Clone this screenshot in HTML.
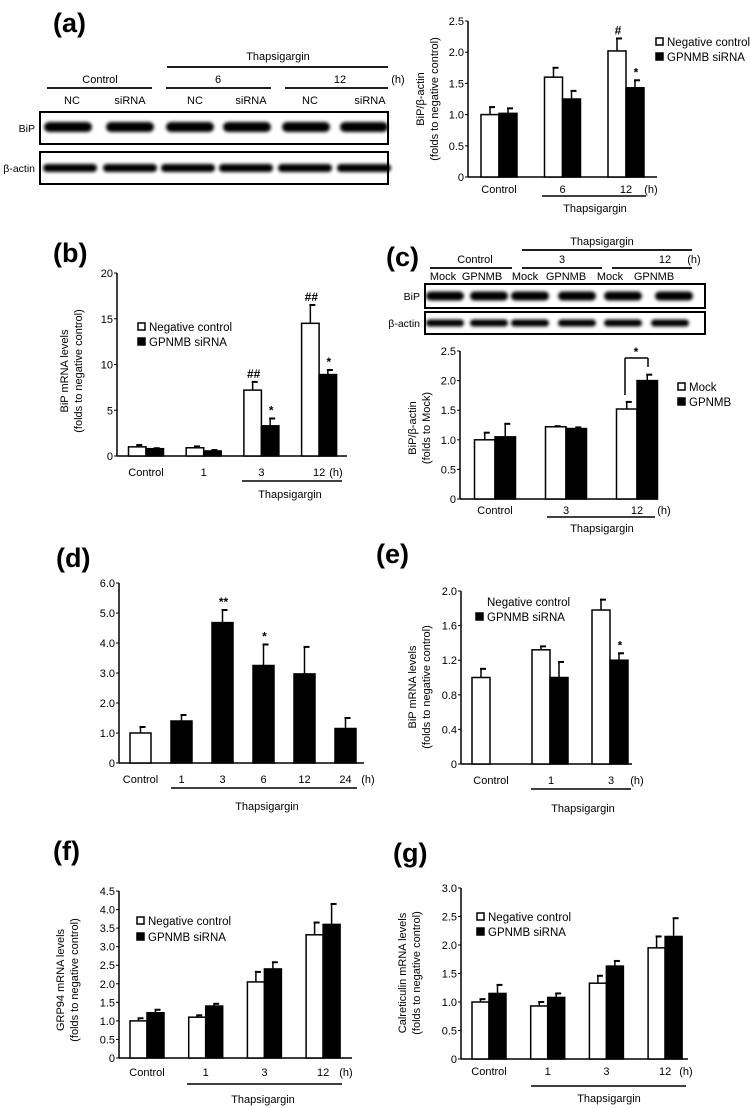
<!DOCTYPE html>
<html><head><meta charset="utf-8">
<style>
html,body{margin:0;padding:0;background:#fff;}
svg{display:block;font-family:"Liberation Sans",Arial,sans-serif;}
</style></head>
<body>
<svg id="fig" width="750" height="1108" viewBox="0 0 750 1108" xmlns="http://www.w3.org/2000/svg">
<defs><filter id="blur" x="-20%" y="-50%" width="140%" height="200%"><feGaussianBlur stdDeviation="1.6"/></filter></defs>
</svg>
<script>
// ---------- data ----------
const aCats = ["Control","6","12"];
const aWhite = [1.0,1.6,2.02];
const aWhiteErr = [0.12,0.15,0.2];
const aBlack = [1.02,1.25,1.43];
const aBlackErr = [0.08,0.13,0.12];
const aTicks = [0,0.5,1.0,1.5,2.0,2.5];
const aMarksW = ["","","#"];
const aMarksB = ["","","*"];

const bCats = ["Control","1","3","12"];
const bWhite = [1.0,0.9,7.2,14.5];
const bWhiteErr = [0.2,0.15,0.9,2.0];
const bBlack = [0.8,0.55,3.3,8.9];
const bBlackErr = [0.05,0.1,0.8,0.5];
const bTicks = [0,5,10,15,20];
const bMarksW = ["","","##","##"];
const bMarksB = ["","","*","*"];

const cCats = ["Control","3","12"];
const cWhite = [1.0,1.22,1.52];
const cWhiteErr = [0.12,0.01,0.12];
const cBlack = [1.05,1.19,2.0];
const cBlackErr = [0.22,0.02,0.1];
const cTicks = [0,0.5,1.0,1.5,2.0,2.5];

const dCats = ["Control","1","3","6","12","24"];
const dValues = [1.0,1.4,4.68,3.25,2.97,1.15];
const dErr = [0.2,0.2,0.42,0.7,0.9,0.35];
const dFill = ["#fff","#000","#000","#000","#000","#000"];
const dTicks = [0,1,2,3,4,5,6];
const dMarks = ["","","**","*","",""];

const eCats = ["Control","1","3"];
const eWhite = [1.0,1.32,1.78];
const eWhiteErr = [0.1,0.04,0.12];
const eBlack = [null,1.0,1.2];
const eBlackErr = [0,0.18,0.08];
const eTicks = [0,0.4,0.8,1.2,1.6,2.0];
const eMarksB = ["","","*"];

const fCats = ["Control","1","3","12"];
const fWhite = [1.0,1.1,2.05,3.32];
const fWhiteErr = [0.07,0.05,0.27,0.33];
const fBlack = [1.22,1.4,2.4,3.6];
const fBlackErr = [0.08,0.06,0.18,0.55];
const fTicks = [0,0.5,1.0,1.5,2.0,2.5,3.0,3.5,4.0,4.5];

const gCats = ["Control","1","3","12"];
const gWhite = [1.0,0.93,1.33,1.95];
const gWhiteErr = [0.05,0.07,0.13,0.2];
const gBlack = [1.15,1.08,1.63,2.15];
const gBlackErr = [0.15,0.07,0.09,0.32];
const gTicks = [0,0.5,1.0,1.5,2.0,2.5,3.0];

// ---------- helpers ----------
const svg = document.getElementById('fig');
const NS = "http://www.w3.org/2000/svg";
function mk(tag, attrs, parent){
  const el = document.createElementNS(NS, tag);
  for (const k in attrs) el.setAttribute(k, attrs[k]);
  (parent||svg).appendChild(el);
  return el;
}
function txt(x,y,s,size,anchor,parent,weight){
  const t = mk('text',{x:x,y:y,'font-size':size||11,'text-anchor':anchor||'middle','fill':'#000'},parent);
  if (weight) t.setAttribute('font-weight',weight);
  t.textContent = s;
  return t;
}
function line(x1,y1,x2,y2,w,parent){
  return mk('line',{x1:x1,y1:y1,x2:x2,y2:y2,stroke:'#000','stroke-width':w||1.5},parent);
}
function grp(name){
  const g = mk('g',{});
  
  
  return g;
}

function chart(c){
  const g = grp(c.name);
  const yS = v => c.y0 - (v/c.max)*(c.y0-c.yTop);
  const cx = i => c.start + i*c.step;
  const ya = line(c.ax, c.y0, c.ax, c.yTop, 1.5, g);
  
  
  const xa = line(c.ax, c.y0, c.xEnd, c.y0, 1.5, g);
  
  
  c.ticks.forEach(t=>{
    const y = yS(t);
    line(c.ax-3, y, c.ax, y, 1, g);
    const lab = txt(c.ax-4, y+4, t===0?"0":t.toFixed(c.dec), 11, 'end', g);
    
    
  });
  function bar(x, v, err, fill, mark){
    if (v===null || v===undefined) return;
    const y = yS(v);
    const r = mk('rect',{x:x, y:y, width:c.bw, height:c.y0-y, fill:fill, stroke:'#000','stroke-width':1.5},g);
    
    
    const ye = yS(v+err);
    if (err>0){
      line(x+c.bw/2, y, x+c.bw/2, ye, 1.5, g);
      line(x+c.bw/2-1, ye, x+c.bw/2+5, ye, 2, g);
    }
    if (mark){
      const m = txt(x+c.bw/2+1, ye-4, mark, 12, 'middle', g, 'bold');
      
      
    }
  }
  c.cats.forEach((cat,i)=>{
    const x = cx(i);
    if (c.single){
      bar(x-c.bw/2, c.single[i], c.singleErr[i], c.singleFill[i], c.singleMarks ? c.singleMarks[i] : "");
    } else {
      bar(x-c.bw, c.white[i], c.whiteErr[i], '#fff', c.marksW ? c.marksW[i] : "");
      bar(x, c.black[i], c.blackErr[i], '#000', c.marksB ? c.marksB[i] : "");
    }
    const l = txt(x + (c.catOff||0), c.labY, cat, 11, 'middle', g);
    
    
  });
  txt(c.hX, c.labY, "(h)", 11, 'middle', g);
  line(c.lx1, c.ly, c.lx2, c.ly, 1.5, g);
  const th = txt(c.thX, c.thY, "Thapsigargin", 11, 'middle', g);
  
  
  if (c.title){
    const tg = mk('g',{transform:`translate(${c.titleX},${c.titleY}) rotate(-90)`},g);
    
    
    c.title.forEach((s,k)=>txt(0, k*14, s, 11, 'middle', tg));
  }
  if (c.legend){
    c.legend.forEach((L,k)=>{
      const lg = mk('g',{},g);
      
      
      if (L.fill) mk('rect',{x:c.legX, y:c.legY+k*c.legDy-4, width:7, height:7, fill:L.fill, stroke:'#000','stroke-width':1.5},lg);
      txt(c.legX+11, c.legY+k*c.legDy+4, L.label, 11.5, 'start', lg);
    });
  }
  return g;
}

function panelLabel(x,y,s){
  const t = txt(x,y,s,27,'start',null,'bold');
  
  
}

function blot(name, x1,y1,x2,y2, label, lanes, bandY, bandH, bandW){
  const g = grp(name);
  mk('rect',{x:x1,y:y1,width:x2-x1,height:y2-y1,fill:'#fff',stroke:'#000','stroke-width':2},g);
  txt(x1-5, (y1+y2)/2+4, label, 10.5, 'end', g);
  lanes.forEach(lx=>{
    const b = mk('rect',{x:lx-bandW/2, y:bandY-bandH/2, width:bandW, height:bandH, rx:bandH/2, fill:'#000', filter:'url(#blur)'},g);
    
    
  });
}
function header(name, items){
  const g = grp(name);
  items.forEach(it=>{
    if (it.t) txt(it.x, it.y, it.t, 11, 'middle', g);
    if (it.l) line(it.l[0], it.l[1], it.l[2], it.l[1], 1.8, g);
  });
}

// ---------- panel (a) ----------
panelLabel(53,32,"(a)");
header('blot-a-header',[
  {t:"Thapsigargin",x:278,y:60},{l:[167,67,388]},
  {t:"Control",x:100,y:83},{l:[47,88,152]},
  {t:"6",x:218,y:83},{l:[166,88,271]},
  {t:"12",x:340,y:83},{l:[285,88,388]},
  {t:"(h)",x:398,y:83},
  {t:"NC",x:72,y:104},{t:"siRNA",x:130,y:104},{t:"NC",x:195,y:104},{t:"siRNA",x:251,y:104},{t:"NC",x:310,y:104},{t:"siRNA",x:370,y:104}
]);
blot('blot-a-bip',40,112,388,144,"BiP",[68,130,190,247,306,364],127,10,48);
blot('blot-a-actin',40,152,388,184,"β-actin",[70,130,188,246,305,364],168,8,54);

chart({name:'chart-a', ax:468, y0:177, yTop:21, max:2.5, ticks:aTicks, dec:1, xEnd:657,
  start:499, step:63.5, bw:18, cats:aCats, white:aWhite, whiteErr:aWhiteErr, black:aBlack, blackErr:aBlackErr,
  marksW:aMarksW, marksB:aMarksB, labY:193, hX:651, lx1:542, lx2:646, ly:196, thX:595, thY:212,
  title:["BiP/β-actin","(folds to negative control)"], titleX:424, titleY:99,
  legend:[{fill:'#fff',label:"Negative control"},{fill:'#000',label:"GPNMB siRNA"}], legX:656, legY:42, legDy:15});

// ---------- panel (b) ----------
panelLabel(53,262,"(b)");
chart({name:'chart-b', ax:117, y0:456, yTop:273, max:20, ticks:bTicks, dec:0, xEnd:347,
  start:146, step:57.7, bw:17.5, cats:bCats, white:bWhite, whiteErr:bWhiteErr, black:bBlack, blackErr:bBlackErr,
  marksW:bMarksW, marksB:bMarksB, labY:476, hX:336, lx1:242, lx2:342, ly:481, thX:290, thY:498,
  title:["BiP mRNA levels","(folds to negative control)"], titleX:68, titleY:371,
  legend:[{fill:'#fff',label:"Negative control"},{fill:'#000',label:"GPNMB siRNA"}], legX:138, legY:327, legDy:15});

// ---------- panel (c) ----------
panelLabel(386,266,"(c)");
header('blot-c-header',[
  {t:"Thapsigargin",x:602,y:245},{l:[522,250,692]},
  {t:"Control",x:475,y:263},{l:[430,268,512]},
  {t:"3",x:562,y:263},{l:[522,268,602]},
  {t:"12",x:665,y:263},{t:"(h)",x:694,y:263},{l:[612,268,692]},
  {t:"Mock",x:443,y:280},{t:"GPNMB",x:482,y:280},{t:"Mock",x:525,y:280},{t:"GPNMB",x:566,y:280},{t:"Mock",x:610,y:280},{t:"GPNMB",x:654,y:280}
]);
blot('blot-c-bip',425,284,705,308,"BiP",[445,489,530,577,623,674],296,9,38);
blot('blot-c-actin',425,312,705,334,"β-actin",[445,489,530,577,623,670],323,7,38);
chart({name:'chart-c', ax:460, y0:499, yTop:351, max:2.5, ticks:cTicks, dec:1, xEnd:658,
  start:495, step:71, bw:20.5, cats:cCats, white:cWhite, whiteErr:cWhiteErr, black:cBlack, blackErr:cBlackErr,
  labY:514, hX:664, lx1:547, lx2:655, ly:517, thX:602, thY:532,
  title:["BiP/β-actin","(folds to Mock)"], titleX:416, titleY:428,
  legend:[{fill:'#fff',label:"Mock"},{fill:'#000',label:"GPNMB"}], legX:678, legY:387, legDy:15});
(function(){
  const g = grp('significance-bracket-c');
  line(625,395,625,358,1.5,g); line(625,358,648,358,1.5,g); line(648,358,648,367,1.5,g);
  txt(636,356,"*",12,'middle',g,'bold');
})();

// ---------- panel (d) ----------
panelLabel(56,567,"(d)");
chart({name:'chart-d', ax:119, y0:763, yTop:583, max:6, ticks:dTicks, dec:1, xEnd:364,
  start:140.5, step:41, bw:21, cats:dCats, single:dValues, singleErr:dErr, singleFill:dFill, singleMarks:dMarks,
  labY:783, hX:368, lx1:171, lx2:357, ly:788, thX:267, thY:810});

// ---------- panel (e) ----------
panelLabel(376,563,"(e)");
chart({name:'chart-e', ax:461, y0:764, yTop:591, max:2.0, ticks:eTicks, dec:1, xEnd:632,
  start:490, step:60, bw:18, cats:eCats, white:eWhite, whiteErr:eWhiteErr, black:eBlack, blackErr:eBlackErr,
  marksB:eMarksB, catOff:1, labY:784, hX:637, lx1:531, lx2:631, ly:789, thX:583, thY:812,
  title:["BiP mRNA levels","(folds to negative control)"], titleX:416, titleY:687,
  legend:[{fill:null,label:"Negative control"},{fill:'#000',label:"GPNMB siRNA"}], legX:476, legY:602, legDy:15});

// ---------- panel (f) ----------
panelLabel(53,860,"(f)");
chart({name:'chart-f', ax:119, y0:1058, yTop:891, max:4.5, ticks:fTicks, dec:1, xEnd:352,
  start:147, step:58.7, bw:17, cats:fCats, white:fWhite, whiteErr:fWhiteErr, black:fBlack, blackErr:fBlackErr,
  labY:1076, hX:346, lx1:187, lx2:342, ly:1084, thX:263, thY:1103,
  title:["GRP94 mRNA levels","(folds to negative control)"], titleX:64, titleY:980,
  legend:[{fill:'#fff',label:"Negative control"},{fill:'#000',label:"GPNMB siRNA"}], legX:137, legY:921, legDy:16});

// ---------- panel (g) ----------
panelLabel(393,862,"(g)");
chart({name:'chart-g', ax:461, y0:1059, yTop:888, max:3.0, ticks:gTicks, dec:1, xEnd:688,
  start:489, step:58.7, bw:17, cats:gCats, white:gWhite, whiteErr:gWhiteErr, black:gBlack, blackErr:gBlackErr,
  labY:1075, hX:686, lx1:531, lx2:686, ly:1086, thX:609, thY:1102,
  title:["Calreticulin mRNA levels","(folds to negative control)"], titleX:406, titleY:973,
  legend:[{fill:'#fff',label:"Negative control"},{fill:'#000',label:"GPNMB siRNA"}], legX:477, legY:917, legDy:15});
</script>
</body></html>
